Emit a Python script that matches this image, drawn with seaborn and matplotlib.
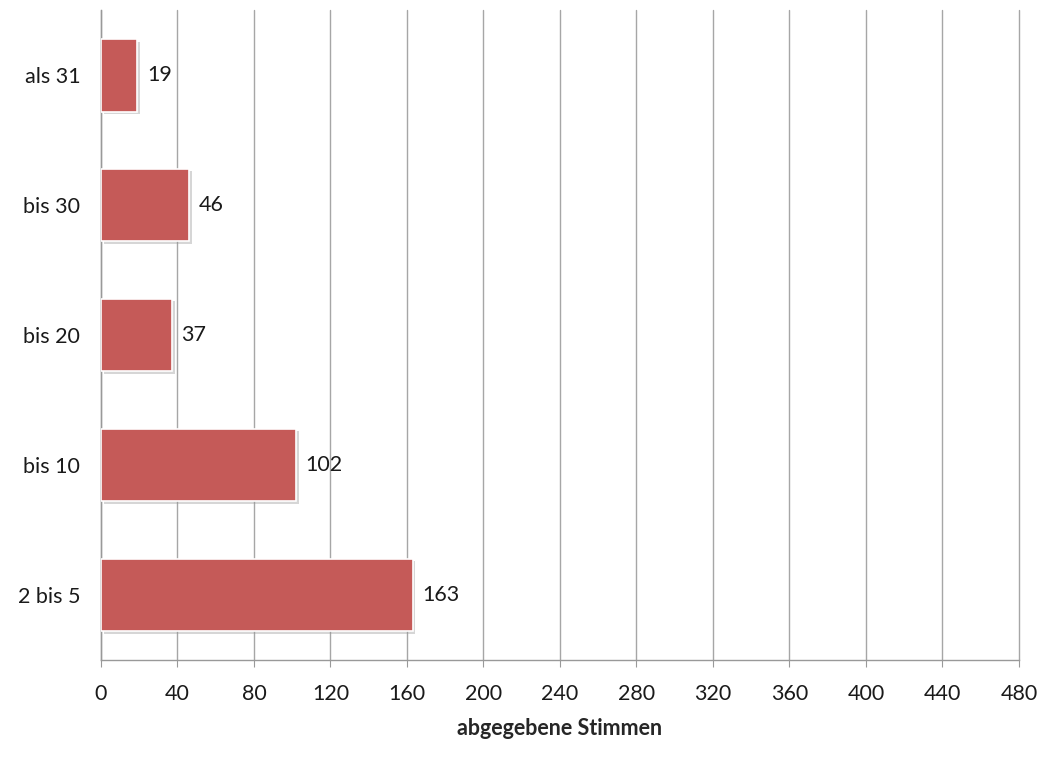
import matplotlib
matplotlib.use('Agg')
import matplotlib.pyplot as plt
import matplotlib.patheffects as pe
import seaborn as sns
import pandas as pd

# Daten: Kategorien und abgegebene Stimmen
categories = ['als 31', 'bis 30', 'bis 20', 'bis 10', '2 bis 5']
votes = [19, 46, 37, 102, 163]
x_ticks = list(range(0, 481, 40))

sns.set_style('white')
plt.rcParams['font.family'] = ['Lato', 'DejaVu Sans']

df = pd.DataFrame({'Kategorie': categories, 'Stimmen': votes})

fig = plt.figure(figsize=(10.53, 7.79), dpi=100)
ax = fig.add_axes([0.0959, 0.1527, 0.8718, 0.8343])

sns.barplot(data=df, y='Kategorie', x='Stimmen', orient='h', color='#C0504D',
            width=0.56, saturation=1, ax=ax, zorder=3)

for bar in ax.patches:
    bar.set_facecolor('#C55A58')
    bar.set_edgecolor('white')
    bar.set_linewidth(1.2)
    bar.set_path_effects([pe.SimplePatchShadow(offset=(2, -2), shadow_rgbFace='#999999', alpha=0.4),
                          pe.Normal()])

for bar, v in zip(ax.patches, votes):
    ax.text(bar.get_width() + 5, bar.get_y() + bar.get_height() / 2, str(v),
            va='center', ha='left', fontsize=15.5, color='#1a1a1a')

ax.set_xlim(0, 480)
ax.set_xticks(x_ticks)
ax.set_xticklabels([str(t) for t in x_ticks], fontsize=15.5, color='#1a1a1a')
ax.tick_params(axis='y', labelsize=15.5, labelcolor='#1a1a1a', length=0, pad=15)
ax.tick_params(axis='x', length=5, color='#999999', pad=12, direction='out', bottom=True)
ax.xaxis.grid(True, color='#A6A6A6', linewidth=1, zorder=0)
for line in ax.get_xgridlines():
    line.set_clip_on(False)
ax.set_axisbelow(True)
ax.set_ylabel('')
ax.set_xlabel('abgegebene Stimmen', fontsize=15.5, fontweight='bold', labelpad=10)

for s in ['top', 'right']:
    ax.spines[s].set_visible(False)
for s in ['left', 'bottom']:
    ax.spines[s].set_color('#999999')
    ax.spines[s].set_linewidth(1)

fig.savefig('out.png', dpi=100)
